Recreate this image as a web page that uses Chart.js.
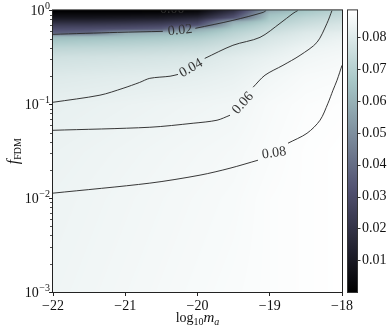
<!DOCTYPE html>
<html>
<head>
<meta charset="utf-8">
<script src="https://cdn.jsdelivr.net/npm/chart.js@4.4.1/dist/chart.umd.min.js"></script>
<style>
  html, body { margin: 0; padding: 0; background: #fff; }
</style>
</head>
<body>
<canvas id="chart" width="391" height="332"></canvas>
<script>
// axis ticks
const massTicks = [-22, -21, -20, -19, -18];
const fdmTicks = [1e-3, 1e-2, 1e-1, 1];
const cbTicks = [0.01, 0.02, 0.03, 0.04, 0.05, 0.06, 0.07, 0.08];
const cbMax = 0.0885;

// heatmap grid: columns in log10 m_a, rows in log10 f_FDM (top to bottom)
const gridMass = [-22, -21.5, -21, -20.5, -20, -19.5, -19, -18.5, -18];
const gridLogF = [0, -0.04, -0.08, -0.12, -0.16, -0.2, -0.24, -0.28, -0.32, -0.4, -0.5, -0.7, -1.0, -1.5, -2.0, -3.0];
const zByMass = [
  [0.000, 0.004, 0.009, 0.017, 0.025, 0.031, 0.037, 0.062, 0.066, 0.072, 0.0765, 0.080, 0.0825, 0.0835, 0.084, 0.0845],
  [0.000, 0.004, 0.009, 0.017, 0.025, 0.032, 0.039, 0.063, 0.067, 0.0725, 0.077, 0.0805, 0.083, 0.084, 0.0845, 0.085],
  [0.000, 0.004, 0.010, 0.018, 0.026, 0.033, 0.058, 0.064, 0.068, 0.073, 0.0775, 0.081, 0.0835, 0.0845, 0.085, 0.0855],
  [0.000, 0.005, 0.011, 0.020, 0.028, 0.036, 0.061, 0.066, 0.069, 0.074, 0.078, 0.0815, 0.084, 0.085, 0.0855, 0.086],
  [0.002, 0.008, 0.016, 0.025, 0.034, 0.058, 0.064, 0.068, 0.071, 0.075, 0.079, 0.082, 0.0845, 0.0855, 0.086, 0.0865],
  [0.018, 0.026, 0.034, 0.058, 0.064, 0.068, 0.071, 0.073, 0.075, 0.078, 0.081, 0.083, 0.085, 0.086, 0.0865, 0.087],
  [0.058, 0.064, 0.067, 0.069, 0.072, 0.074, 0.076, 0.078, 0.079, 0.081, 0.083, 0.085, 0.0865, 0.087, 0.0875, 0.0875],
  [0.066, 0.069, 0.072, 0.074, 0.076, 0.078, 0.080, 0.081, 0.082, 0.084, 0.085, 0.0865, 0.0875, 0.088, 0.088, 0.088],
  [0.071, 0.073, 0.075, 0.077, 0.079, 0.080, 0.082, 0.083, 0.084, 0.085, 0.086, 0.087, 0.088, 0.0885, 0.0885, 0.0885]
];

// contour lines [log10 m_a, f_FDM]; null = gap for the inline label
const contour002 = [[-22, 0.556], [-21.11, 0.583], [-20.48, 0.598], null,
  [-20.03, 0.644], [-19.51, 0.783], [-19.09, 0.953], [-19.05, 1.0]];
const contour004 = [[-22, 0.105], [-21.35, 0.125], [-21.03, 0.148], [-20.80, 0.171], [-20.66, 0.189], [-20.38, 0.199], [-20.27, 0.208], null,
  [-19.90, 0.308], [-19.51, 0.425], [-19.135, 0.516], [-18.858, 0.728], [-18.678, 0.929], [-18.609, 1.0]];
const contour006 = [[-22, 0.0528], [-20.66, 0.0569], [-20.06, 0.0628], [-19.73, 0.0676], [-19.55, 0.0764], null,
  [-19.23, 0.152], [-19.066, 0.204], [-18.817, 0.260], [-18.581, 0.332], [-18.346, 0.457], [-18.208, 0.728], [-18.138, 1.0]];
const contour008 = [[-22, 0.0113], [-20.66, 0.01445], [-19.965, 0.01758], [-19.55, 0.02084], [-19.163, 0.02535], null,
  [-18.747, 0.0385], [-18.484, 0.0491], [-18.304, 0.0676], [-18.194, 0.1025], [-18.125, 0.141], [-18.069, 0.180], [-18.0, 0.26]];

// inline contour labels
const labelText = ['0.00', '0.02', '0.04', '0.06', '0.08'];
const labelMass = [-20.35, -20.24, -20.09, -19.37, -18.94];
const labelFdm = [1.025, 0.612, 0.242, 0.1025, 0.0301];
const labelAngle = [0, -6, -30, -48, -8];

const SERIF = '"Liberation Serif", "DejaVu Serif", serif';
const INK = '#111';
const LINE = 'rgba(45,45,45,0.95)';

// matplotlib "bone"
function bone(t){
  t = Math.max(0, Math.min(1, t));
  var r = t < 0.746032 ? t * 0.652778 / 0.746032 : 0.652778 + (t - 0.746032) / 0.253968 * 0.347222;
  var g = t < 0.365079 ? t * 0.319444 / 0.365079
    : t < 0.746032 ? 0.319444 + (t - 0.365079) / 0.380953 * 0.458334
    : 0.777778 + (t - 0.746032) / 0.253968 * 0.222222;
  var b = t < 0.365079 ? t * 0.444444 / 0.365079 : 0.444444 + (t - 0.365079) / 0.634921 * 0.555556;
  return [r * 255, g * 255, b * 255];
}

function segIndex(arr, v, desc){
  for(var i = 0; i < arr.length - 1; i++){
    var a = arr[i], b = arr[i + 1];
    if(desc ? (v <= a && v >= b) : (v >= a && v <= b)) return i;
  }
  return (desc ? v > arr[0] : v < arr[0]) ? 0 : arr.length - 2;
}

function sampleGrid(m, lf){
  var i = segIndex(gridMass, m, false);
  var k = segIndex(gridLogF, lf, true);
  var u = (m - gridMass[i]) / (gridMass[i + 1] - gridMass[i]);
  var w = (lf - gridLogF[k]) / (gridLogF[k + 1] - gridLogF[k]);
  u = Math.max(0, Math.min(1, u)); w = Math.max(0, Math.min(1, w));
  var c0 = zByMass[i], c1 = zByMass[i + 1];
  var top = c0[k] * (1 - u) + c1[k] * u;
  var bot = c0[k + 1] * (1 - u) + c1[k + 1] * u;
  return top * (1 - w) + bot * w;
}

const heatmap = {
  id: 'heatmap',
  beforeDatasetsDraw(chart){
    const {ctx, chartArea: a, scales: {x, y}} = chart;
    const w = Math.round(a.right - a.left), h = Math.round(a.bottom - a.top);
    const off = document.createElement('canvas');
    off.width = w; off.height = h;
    const octx = off.getContext('2d');
    const img = octx.createImageData(w, h);
    for(var j = 0; j < h; j++){
      var lf = Math.log10(y.getValueForPixel(a.top + j + 0.5));
      for(var i = 0; i < w; i++){
        var m = x.getValueForPixel(a.left + i + 0.5);
        var c = bone(sampleGrid(m, lf) / cbMax);
        var p = (j * w + i) * 4;
        img.data[p] = c[0]; img.data[p + 1] = c[1]; img.data[p + 2] = c[2]; img.data[p + 3] = 255;
      }
    }
    octx.putImageData(img, 0, 0);
    ctx.drawImage(off, a.left, a.top);
  }
};

function drawPieces(ctx, pieces, x, y){
  // pieces: [text, font, dy]
  var total = 0;
  pieces.forEach(function(p){ ctx.font = p[1]; total += ctx.measureText(p[0]).width; });
  var cx = x - total / 2;
  pieces.forEach(function(p){
    ctx.font = p[1];
    ctx.fillText(p[0], cx, y + p[2]);
    cx += ctx.measureText(p[0]).width;
  });
}

const decorations = {
  id: 'decorations',
  afterDatasetsDraw(chart){
    const {ctx, chartArea: a, scales: {x, y}} = chart;
    // contour labels
    ctx.save();
    ctx.beginPath();
    ctx.rect(a.left, a.top, a.right - a.left, a.bottom - a.top);
    ctx.clip();
    ctx.fillStyle = '#333';
    ctx.font = '14px ' + SERIF;
    ctx.textAlign = 'center';
    ctx.textBaseline = 'middle';
    labelText.forEach(function(t, i){
      ctx.save();
      ctx.translate(x.getPixelForValue(labelMass[i]), y.getPixelForValue(labelFdm[i]));
      ctx.rotate(labelAngle[i] * Math.PI / 180);
      ctx.fillText(t, 0, 0);
      ctx.restore();
    });
    ctx.restore();
  },
  afterDraw(chart){
    const {ctx, chartArea: a, scales: {x, y, cb}} = chart;
    ctx.save();
    // frame
    ctx.strokeStyle = '#222';
    ctx.lineWidth = 1;
    ctx.strokeRect(a.left - 0.5, a.top - 0.5, a.right - a.left + 1, a.bottom - a.top + 1);

    // minor y ticks
    ctx.beginPath();
    [1e-3, 1e-2, 1e-1].forEach(function(d){
      for(var k = 2; k <= 9; k++){
        var py = Math.round(y.getPixelForValue(k * d)) + 0.5;
        ctx.moveTo(a.left - 1, py); ctx.lineTo(a.left - 3, py);
      }
    });
    ctx.lineWidth = 0.8;
    ctx.stroke();

    // y tick labels 10^n
    ctx.fillStyle = INK;
    ctx.textBaseline = 'alphabetic';
    ctx.textAlign = 'left';
    fdmTicks.forEach(function(v){
      var py = y.getPixelForValue(v);
      var e = Math.round(Math.log10(v));
      var es = (e < 0 ? '\u2212' : '') + Math.abs(e);
      ctx.font = '10px ' + SERIF;
      var ew = ctx.measureText(es).width;
      ctx.font = '14px ' + SERIF;
      var bw = ctx.measureText('10').width;
      var right = a.left - 3;
      ctx.fillText('10', right - ew - bw - 0.5, py + 5);
      ctx.font = '10px ' + SERIF;
      ctx.fillText(es, right - ew, py - 1);
    });

    // axis titles
    ctx.textAlign = 'left';
    drawPieces(ctx, [
      ['log', '14px ' + SERIF, 0],
      ['10', '10px ' + SERIF, 3],
      ['m', 'italic 15px ' + SERIF, 0],
      ['a', 'italic 10px ' + SERIF, 3]
    ], (a.left + a.right) / 2, 322);
    ctx.save();
    ctx.translate(0, (a.top + a.bottom) / 2);
    ctx.rotate(-Math.PI / 2);
    drawPieces(ctx, [
      ['f', 'italic 16px ' + SERIF, 0],
      ['FDM', '10px ' + SERIF, 3]
    ], 0, 18);
    ctx.restore();

    // colorbar
    var cbL = a.right + 6, cbR = a.right + 15;
    var cbTop = cb.getPixelForValue(cbMax), cbBot = cb.getPixelForValue(0);
    var grad = ctx.createLinearGradient(0, cbBot, 0, cbTop);
    for(var s = 0; s <= 40; s++){
      var c = bone(s / 40);
      grad.addColorStop(s / 40, 'rgb(' + c.map(Math.round).join(',') + ')');
    }
    ctx.fillStyle = grad;
    ctx.fillRect(cbL, cbTop, cbR - cbL, cbBot - cbTop);
    ctx.strokeStyle = '#333';
    ctx.lineWidth = 1;
    ctx.strokeRect(cbL - 0.5, cbTop - 0.5, cbR - cbL + 1, cbBot - cbTop + 1);
    ctx.beginPath();
    cbTicks.forEach(function(v){
      var py = Math.round(cb.getPixelForValue(v)) + 0.5;
      ctx.moveTo(cbR, py); ctx.lineTo(cbR + 3.5, py);
    });
    ctx.stroke();
    ctx.restore();
  }
};

function toPoints(arr){
  return arr.map(function(p){ return p ? {x: p[0], y: p[1]} : {x: NaN, y: null}; });
}

function contourSet(arr){
  return {
    data: toPoints(arr),
    xAxisID: 'x', yAxisID: 'y',
    borderColor: LINE, borderWidth: 1,
    pointRadius: 0, tension: 0.3, spanGaps: false, fill: false
  };
}

new Chart(document.getElementById('chart'), {
  type: 'line',
  data: {
    datasets: [contourSet(contour002), contourSet(contour004), contourSet(contour006), contourSet(contour008)]
  },
  options: {
    responsive: false,
    animation: false,
    layout: {padding: {left: 0, right: 0, top: 10, bottom: 0}},
    plugins: {legend: {display: false}, tooltip: {enabled: false}},
    scales: {
      x: {
        type: 'linear', min: -22, max: -18,
        afterBuildTicks: s => { s.ticks = massTicks.map(v => ({value: v})); },
        afterFit: s => { s.height = 40; },
        ticks: {
          callback: v => (v < 0 ? '\u2212' : '') + Math.abs(v),
          font: {family: SERIF, size: 14}, color: INK, padding: 2,
          maxRotation: 0, autoSkip: false
        },
        grid: {drawOnChartArea: false, tickLength: 4, tickColor: '#222'},
        border: {display: false}
      },
      y: {
        type: 'logarithmic', min: 1e-3, max: 1, position: 'left',
        afterBuildTicks: s => { s.ticks = fdmTicks.map(v => ({value: v, major: true})); },
        afterFit: s => { s.width = 53; },
        ticks: {callback: () => '', autoSkip: false},
        grid: {drawOnChartArea: false, tickLength: 4, tickColor: '#222'},
        border: {display: false}
      },
      cb: {
        type: 'linear', position: 'right', min: 0, max: cbMax,
        afterBuildTicks: s => { s.ticks = cbTicks.map(v => ({value: v})); },
        afterFit: s => { s.width = 49; },
        ticks: {
          callback: v => v.toFixed(2),
          font: {family: SERIF, size: 14}, color: INK, padding: 2, autoSkip: false
        },
        grid: {drawOnChartArea: false, tickLength: 18, tickColor: 'rgba(0,0,0,0)'},
        border: {display: false}
      }
    }
  },
  plugins: [heatmap, decorations]
});
</script>
</body>
</html>
